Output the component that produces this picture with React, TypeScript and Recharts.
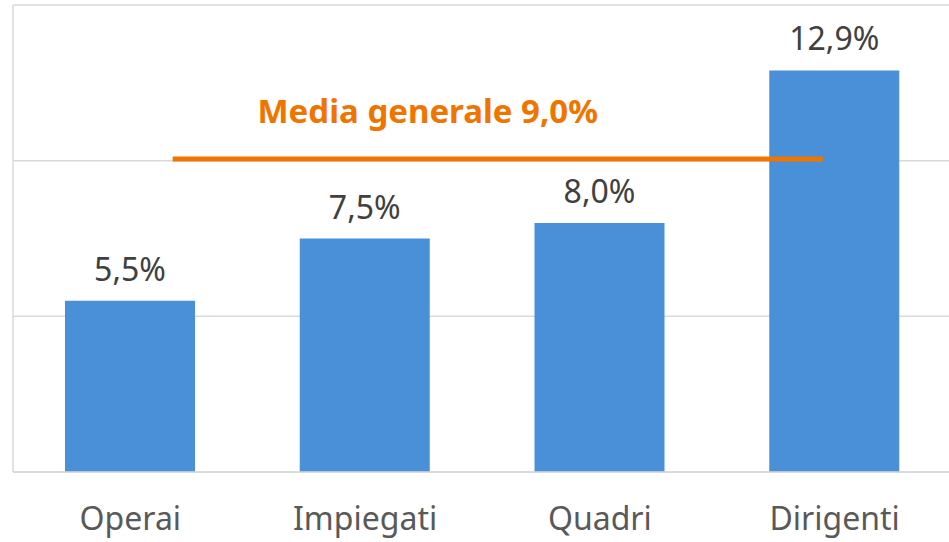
import React from 'react';
import {
  BarChart,
  Bar,
  XAxis,
  YAxis,
  CartesianGrid,
  ReferenceLine,
  LabelList
} from 'recharts';

// categories and values
const categories = ['Operai', 'Impiegati', 'Quadri', 'Dirigenti'];
const values = [5.5, 7.5, 8.0, 12.9];
const yTicks = [0, 5, 10, 15];

// the "media generale" annotation: label text, drawn height, and span in category units
const mediaLabel = 'Media generale 9,0%';
const mediaLineValue = 10.05;
const mediaSpan = [0.68, 3.45];

const data = categories.map((name, i) => ({ name, value: values[i], pos: i + 0.5 }));

const FONT = '"Source Sans Pro", "Noto Sans", sans-serif';
const fmt = (v: number) => `${v.toFixed(1).replace('.', ',')}%`;

export default function App() {
  return (
    <div style={{ width: 949, height: 542, fontFamily: FONT }}>
      <style>{`body{margin:0}`}</style>
      <BarChart
        width={949}
        height={542}
        data={data}
        margin={{ top: 5, right: -3, left: 12, bottom: 0 }}
        barSize={130}
      >
        <CartesianGrid
          vertical={false}
          horizontalValues={yTicks}
          stroke="#d9d9d9"
          strokeWidth={1.5}
        />
        <XAxis
          dataKey="name"
          height={70}
          tickLine={false}
          tickSize={0}
          tickMargin={35}
          axisLine={{ stroke: '#d9d9d9', strokeWidth: 1.5 }}
          tick={{ fill: '#595959', fontSize: 32, fontFamily: FONT }}
        />
        <XAxis
          xAxisId="ref"
          dataKey="pos"
          type="number"
          domain={[0, 4]}
          allowDataOverflow
          hide
        />
        <YAxis
          domain={[0, 15]}
          ticks={yTicks}
          width={1}
          tick={() => <g />}
          tickLine={false}
          axisLine={{ stroke: '#d9d9d9', strokeWidth: 1.5 }}
        />
        <Bar dataKey="value" fill="#4a90d9" isAnimationActive={false}>
          <LabelList
            dataKey="value"
            position="top"
            offset={20}
            formatter={(v: number) => fmt(v)}
            style={{ fill: '#404040', fontSize: 32, fontFamily: FONT }}
          />
        </Bar>
        <ReferenceLine
          xAxisId="ref"
          segment={[
            { x: mediaSpan[0], y: mediaLineValue },
            { x: mediaSpan[1], y: mediaLineValue }
          ]}
          ifOverflow="visible"
          stroke="#f07400"
          strokeWidth={5}
          label={{
            value: mediaLabel,
            position: 'top',
            offset: 36,
            dx: -70,
            fill: '#f07400',
            fontSize: 33,
            fontWeight: 700,
            fontFamily: FONT
          }}
        />
      </BarChart>
    </div>
  );
}
